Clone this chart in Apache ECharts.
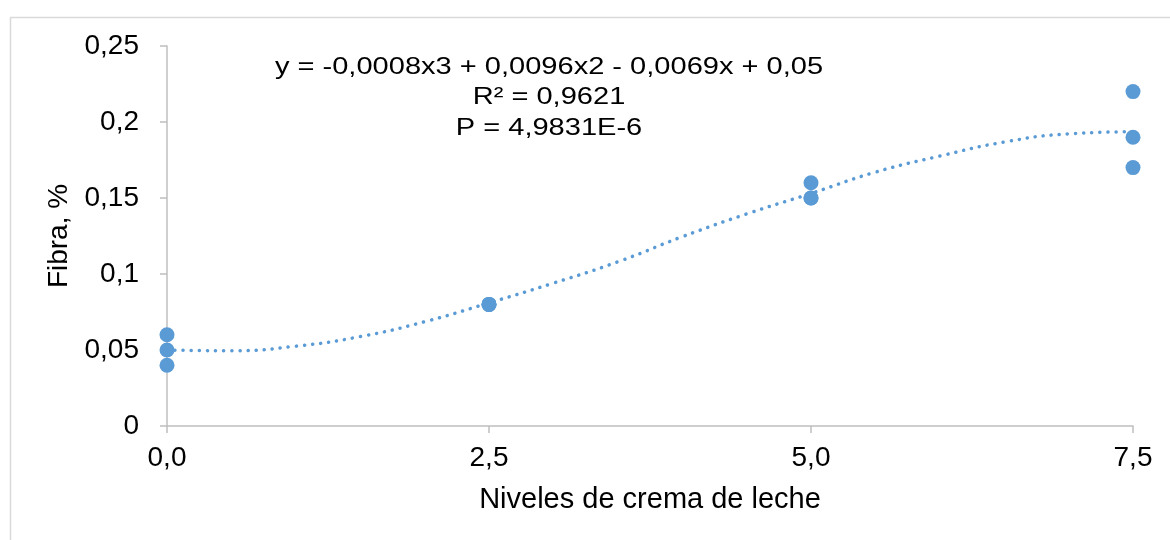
<!DOCTYPE html>
<html>
<head>
<meta charset="utf-8">
<script src="https://cdn.jsdelivr.net/npm/echarts@6/dist/echarts.min.js"></script>
<style>
html,body{margin:0;padding:0;background:#fff;}
#chart{width:1170px;height:540px;}
</style>
</head>
<body>
<div id="chart"></div>
<script>
// Observed data points (x = nivel de crema de leche, y = fibra %)
const obsX = [0, 0, 0, 2.5, 2.5, 2.5, 5, 5, 5, 7.5, 7.5, 7.5];
const obsY = [0.06, 0.05, 0.04, 0.08, 0.08, 0.08, 0.16, 0.15, 0.15, 0.22, 0.19, 0.17];
// Trend line values
const trendX = [0, 0.5, 1, 1.5, 2, 2.5, 3, 3.5, 4, 4.5, 5, 5.5, 6, 6.5, 7, 7.5];
const trendY = [0.050, 0.0495, 0.0525, 0.0588, 0.0686, 0.081, 0.094, 0.108, 0.1245, 0.1395, 0.153, 0.167, 0.1776, 0.1868, 0.1922, 0.1936];
const xTickLabels = ['0,0', '2,5', '5,0', '7,5'];
const yTickLabels = ['0', '0,05', '0,1', '0,15', '0,2', '0,25'];
const eqLines = ['y = -0,0008x3 + 0,0096x2 - 0,0069x + 0,05', 'R² = 0,9621', 'P = 4,9831E-6'];
const xName = 'Niveles de crema de leche';
const yName = 'Fibra, %';

const FONT = '"Liberation Sans", Arial, sans-serif';
const BLUE = '#5B9BD5';
const AXIS = '#bfbfbf';

const chart = echarts.init(document.getElementById('chart'), null, {renderer: 'canvas'});
const scatterData = obsX.map((x, i) => [x, obsY[i]]);
const trendData = trendX.map((x, i) => [x, trendY[i]]);
const eqY = [67, 97.5, 128];

chart.setOption({
  animation: false,
  backgroundColor: '#fff',
  grid: {left: 167, right: 37, top: 46, bottom: 114, outerBoundsMode: 'none'},
  graphic: [
    {type: 'rect', silent: true, shape: {x: 10.5, y: 17.5, width: 1300, height: 700},
     style: {fill: 'none', stroke: '#d9d9d9', lineWidth: 1.5}}
  ].concat(eqLines.map((t, i) => ({
    type: 'text', silent: true, x: 549, y: eqY[i], scaleX: 1.21,
    style: {text: t, x: 0, y: 0, align: 'center', verticalAlign: 'middle',
            fontSize: 24, fontFamily: FONT, fill: '#000'}
  }))),
  xAxis: {
    type: 'value', min: 0, max: 7.5, interval: 2.5,
    name: xName, nameLocation: 'middle', nameGap: 59,
    nameTextStyle: {fontSize: 29, fontFamily: FONT, color: '#000'},
    axisLine: {show: true, lineStyle: {color: AXIS, width: 1.5}},
    axisTick: {show: true, inside: false, length: 7, lineStyle: {color: AXIS, width: 1.5}},
    splitLine: {show: false},
    axisLabel: {margin: 18, fontSize: 28, fontFamily: FONT, color: '#000',
      formatter: v => xTickLabels[Math.round(v / 2.5)]}
  },
  yAxis: {
    type: 'value', min: 0, max: 0.25, interval: 0.05,
    name: yName, nameLocation: 'middle', nameGap: 89, nameRotate: 90,
    nameTextStyle: {fontSize: 28, fontFamily: FONT, color: '#000'},
    axisLine: {show: true, lineStyle: {color: AXIS, width: 1.5}},
    axisTick: {show: true, inside: false, length: 7, lineStyle: {color: AXIS, width: 1.5}},
    splitLine: {show: false},
    axisLabel: {margin: 28, fontSize: 28, fontFamily: FONT, color: '#000',
      formatter: v => yTickLabels[Math.round(v / 0.05)]}
  },
  series: [
    {
      type: 'line', data: trendData, smooth: true, showSymbol: false, symbol: 'none', z: 2,
      lineStyle: {color: BLUE, width: 3.5, type: [0.1, 8], cap: 'round'}
    },
    {
      type: 'scatter', data: scatterData, symbol: 'circle', symbolSize: 15, z: 3,
      itemStyle: {color: BLUE, opacity: 1}
    }
  ]
});
</script>
</body>
</html>
